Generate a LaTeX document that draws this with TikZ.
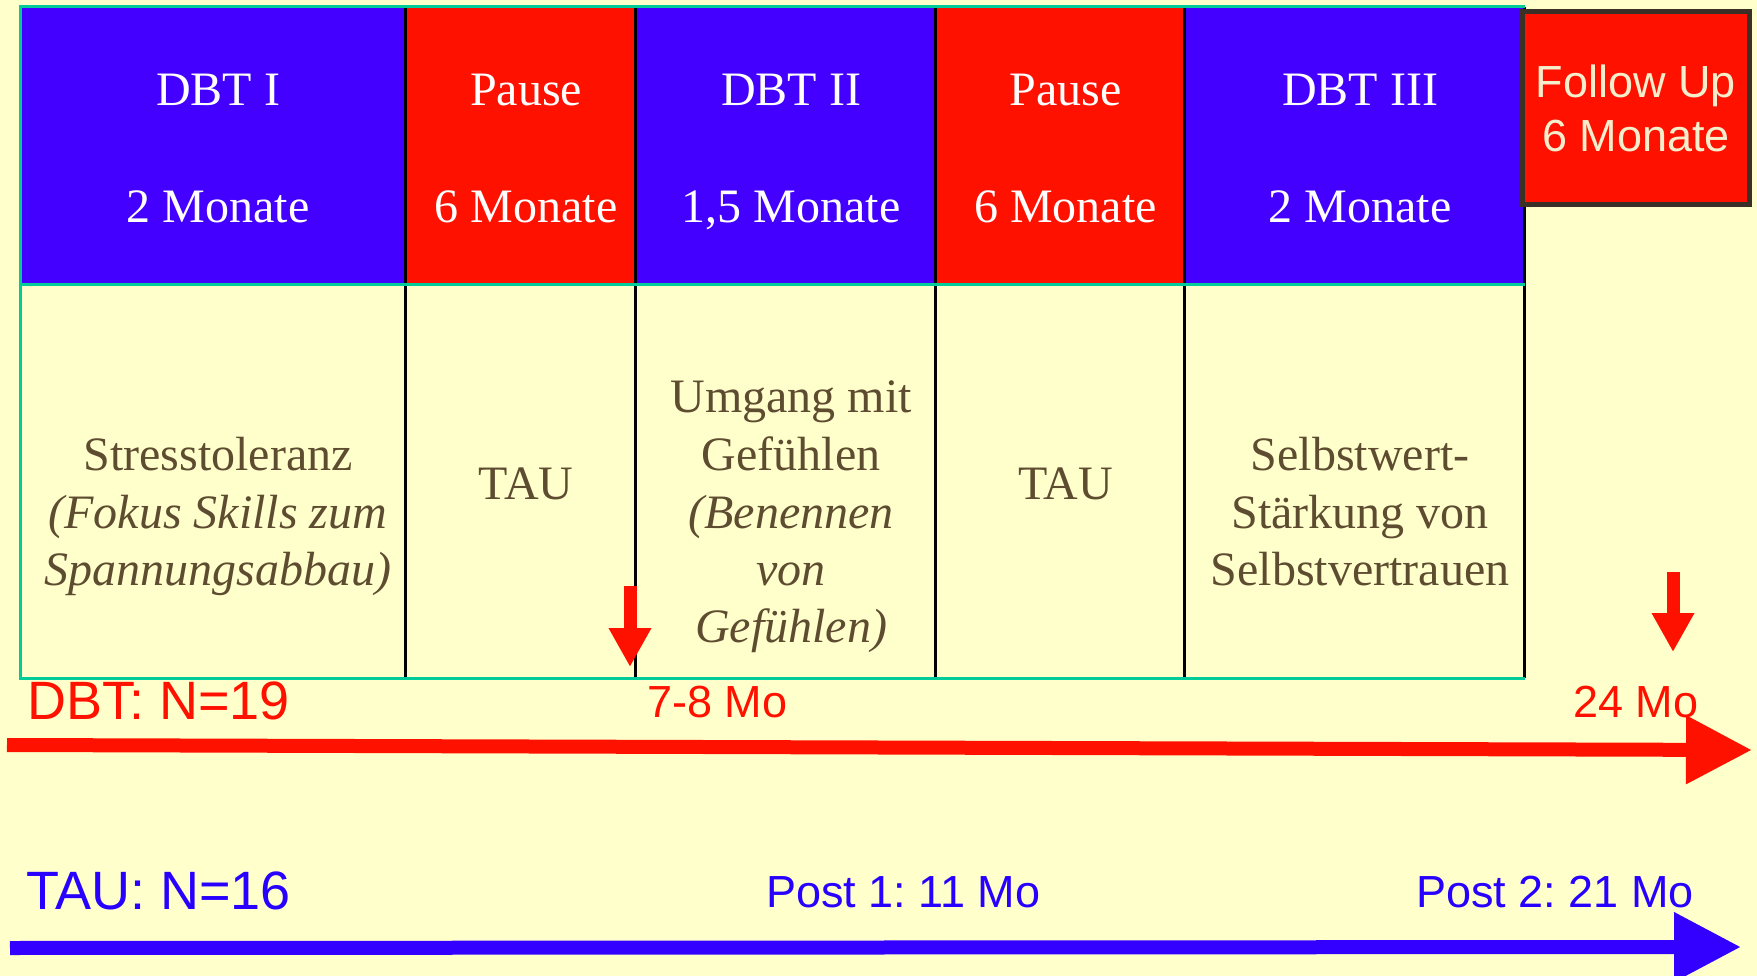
\documentclass[tikz,border=0pt]{standalone}
\usepackage{fontspec}
\setmainfont{Liberation Serif}
\setsansfont{Liberation Sans}
\usetikzlibrary{arrows.meta}
\definecolor{bg}{RGB}{255,255,204}
\definecolor{hblue}{RGB}{68,0,255}
\definecolor{hred}{RGB}{255,17,0}
\definecolor{teal}{RGB}{0,204,153}
\definecolor{bodyc}{RGB}{94,76,48}
\definecolor{fubord}{RGB}{58,48,40}
\definecolor{futext}{RGB}{245,238,205}
\definecolor{lred}{RGB}{255,17,0}
\definecolor{lblue}{RGB}{40,0,255}
\definecolor{ablue}{RGB}{51,0,255}
\frenchspacing
\begin{document}
\begin{tikzpicture}[x=1pt,y=-1pt,
  hdr/.style={anchor=base, inner sep=0, text=white, font=\fontsize{48}{57}\selectfont},
  body/.style={anchor=base, inner sep=0, text=bodyc, font=\fontsize{48}{57}\selectfont},
  bodyit/.style={anchor=base, inner sep=0, text=bodyc, font=\fontsize{48}{57}\selectfont\itshape},
  futxt/.style={anchor=base, inner sep=0, text=futext, font=\sffamily\fontsize{45}{54}\selectfont},
  labbig/.style={anchor=base west, inner sep=0, font=\sffamily\fontsize{54}{62}\selectfont},
  labsm/.style={anchor=base west, inner sep=0, font=\sffamily\fontsize{45}{54}\selectfont},
  divline/.style={black, line width=2.5},
  tealline/.style={teal, line width=3},
  bigred/.style={hred, line width=14, -{Triangle[length=66pt,width=65pt]}},
  bigblue/.style={ablue, line width=14, -{Triangle[length=67pt,width=66pt]}},
  smallred/.style={hred, line width=13, -{Triangle[length=39pt,width=40pt]}}
]
\useasboundingbox (0,0) rectangle (1757,976);
\fill[bg] (0,0) rectangle (1757,976);

% header fills
\fill[hblue] (20,7) rectangle (405.5,285);
\fill[hred] (405.5,7) rectangle (635.3,285);
\fill[hblue] (635.3,7) rectangle (935.5,285);
\fill[hred] (935.5,7) rectangle (1184.6,285);
\fill[hblue] (1184.6,7) rectangle (1524.5,285);

% dividers
\foreach \xx in {405.5,635.3,935.5,1184.6,1524.5}
  \draw[divline] (\xx,7) -- (\xx,678);

% teal frame lines
\draw[tealline] (20,7) -- (1524.5,7);
\draw[tealline] (20,285) -- (1524.5,285);
\draw[tealline] (20,678) -- (1524.5,678);
\draw[tealline] (20,5.5) -- (20,679.5);

% follow up box
\draw[fubord, line width=5, fill=hred] (1522.2,11.8) rectangle (1749.5,204.5);
\node[futxt] (fu1) at (1636,98) {Follow Up};
\node[futxt] (fu2) at (1636,152) {6 Monate};

% header texts
\node[hdr] (h1a) at (218,106) {DBT I};
\node[hdr] (h1b) at (218,223) {2 Monate};
\node[hdr] (h2a) at (526,106) {Pause};
\node[hdr] (h2b) at (526,223) {6 Monate};
\node[hdr] (h3a) at (791,106) {DBT II};
\node[hdr] (h3b) at (791,223) {1,5 Monate};
\node[hdr] (h4a) at (1065.5,106) {Pause};
\node[hdr] (h4b) at (1065.5,223) {6 Monate};
\node[hdr] (h5a) at (1360,106) {DBT III};
\node[hdr] (h5b) at (1360,223) {2 Monate};

% body texts
\node[body] (b1a) at (218,470) {Stresstoleranz};
\node[bodyit] (b1b) at (218,528) {(Fokus Skills zum};
\node[bodyit] (b1c) at (218,585) {Spannungsabbau)};
\node[body] (b2) at (526,499) {TAU};
\node[body] (b3a) at (791,413) {Umgang mit};
\node[body] (b3b) at (791,470) {Gefühlen};
\node[bodyit] (b3c) at (791,528) {(Benennen};
\node[bodyit] (b3d) at (791,585) {von};
\node[bodyit] (b3e) at (791,642) {Gefühlen)};
\node[body] (b4) at (1065.5,499) {TAU};
\node[body] (b5a) at (1360,470) {Selbstwert-};
\node[body] (b5b) at (1360,528) {Stärkung von};
\node[body] (b5c) at (1360,585) {Selbstvertrauen};

% arrows
\coordinate (ra) at (7,745);
\coordinate (rb) at (1752,750);
\coordinate (ba) at (10,948);
\coordinate (bb) at (1741,947);
\coordinate (s1a) at (630,586);
\coordinate (s1b) at (630,667);
\coordinate (s2a) at (1673,572);
\coordinate (s2b) at (1673,652);
\draw[bigred] (ra) -- (rb);
\draw[bigblue] (ba) -- (bb);
\draw[smallred] (s1a) -- (s1b);
\draw[smallred] (s2a) -- (s2b);

% labels
\node[labbig, text=lred] (dbtn) at (27,719) {DBT: N=19};
\node[labsm, text=lred] (m78) at (647,717) {7-8 Mo};
\node[labsm, text=lred] (m24) at (1573,717) {24 Mo};
\node[labbig, text=lblue] (taun) at (26,909) {TAU: N=16};
\node[labsm, text=lblue] (p1) at (766,907) {Post 1: 11 Mo};
\node[labsm, text=lblue] (p2) at (1416,907) {Post 2: 21 Mo};
\end{tikzpicture}
\end{document}
